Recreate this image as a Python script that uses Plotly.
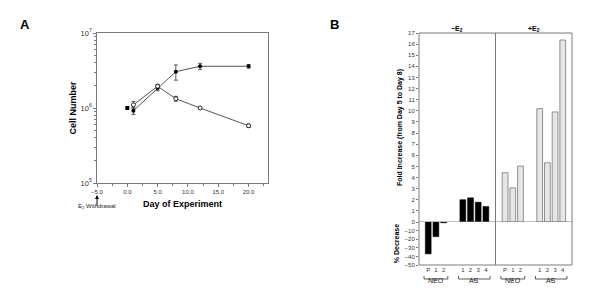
import plotly.graph_objects as go

# ---------------- Panel A data ----------------
start_day = [0]
start_cells = [1.0e6]
days = [1, 5, 8, 12, 20]
cells_plus_e2 = [0.92e6, 1.85e6, 3.05e6, 3.6e6, 3.6e6]
err_plus_e2 = [0.1e6, 0.15e6, 0.7e6, 0.35e6, 0.2e6]
cells_minus_e2 = [1.1e6, 1.95e6, 1.33e6, 1.0e6, 0.58e6]
err_minus_e2 = [0.12e6, 0.12e6, 0.1e6, 0.03e6, 0.03e6]
withdrawal_day = -5

# ---------------- Panel B data ----------------
conditions = ["−E<sub>2</sub>", "+E<sub>2</sub>"]
group_names = ["NEO", "AS", "NEO", "AS"]
group_condition = [0, 0, 1, 1]
group_labels = [["P", "1", "2"], ["1", "2", "3", "4"], ["P", "1", "2"], ["1", "2", "3", "4"]]
group_values = [[-37, -17, -0.8], [2.0, 2.17, 1.78, 1.39],
                [4.43, 3.07, 5.03], [10.2, 5.33, 9.9, 16.37]]
upper_ticks = list(range(0, 18))
lower_ticks = [-50, -40, -30, -20, -10]

FONT = "Arial, Liberation Sans, sans-serif"
LINE = "#7a7a7a"

fig = go.Figure()

# ---------- Panel A ----------
fig.add_trace(go.Scatter(x=days, y=cells_plus_e2, mode="lines+markers",
                         line=dict(color="#555555", width=1),
                         marker=dict(symbol="circle", size=4, color="black"),
                         error_y=dict(type="data", array=err_plus_e2, color="#333333", thickness=0.8, width=2),
                         xaxis="x", yaxis="y", showlegend=False))
fig.add_trace(go.Scatter(x=days, y=cells_minus_e2, mode="lines+markers",
                         line=dict(color="#555555", width=1),
                         marker=dict(symbol="circle", size=4, color="white", line=dict(color="black", width=0.8)),
                         error_y=dict(type="data", array=err_minus_e2, color="#333333", thickness=0.8, width=2),
                         xaxis="x", yaxis="y", showlegend=False))
fig.add_trace(go.Scatter(x=start_day, y=start_cells, mode="markers",
                         marker=dict(symbol="square", size=4, color="black"),
                         xaxis="x", yaxis="y", showlegend=False))

# ---------- Panel B: positions derived from group structure ----------
first_offset = 1.2
step = 1.0
group_gap = 2.5
positions = []
cursor = first_offset
for gi, labels in enumerate(group_labels):
    pos = [cursor + i * step for i in range(len(labels))]
    positions.append(pos)
    cursor = pos[-1] + group_gap
x_max = positions[-1][-1] + first_offset
divider_x = (positions[1][-1] + positions[2][0]) / 2

bar_styles = [dict(color="black", line=dict(color="black", width=0.6)),
              dict(color="#e6e6e6", line=dict(color="#777777", width=0.8))]

for gi in range(len(group_labels)):
    cond = group_condition[gi]
    xs_up = [x for x, v in zip(positions[gi], group_values[gi]) if v >= 0]
    ys_up = [v for v in group_values[gi] if v >= 0]
    xs_dn = [x for x, v in zip(positions[gi], group_values[gi]) if v < 0]
    ys_dn = [v for v in group_values[gi] if v < 0]
    if xs_up:
        fig.add_trace(go.Bar(x=xs_up, y=ys_up, width=0.75, marker=bar_styles[cond],
                             xaxis="x2", yaxis="y2", showlegend=False))
    if xs_dn:
        fig.add_trace(go.Bar(x=xs_dn, y=ys_dn, width=0.75, marker=bar_styles[cond],
                             xaxis="x3", yaxis="y3", showlegend=False))

all_pos = [p for g in positions for p in g]
all_lab = [l for g in group_labels for l in g]

tickfont = dict(family=FONT, size=6, color="#333333")

# domains
A_x = [97 / 600, 268 / 600]
A_y = [1 - 183 / 305, 1 - 33 / 305]
B_x = [419 / 600, 572 / 600]
B_up = [1 - 222 / 305, 1 - 33 / 305]
B_dn = [1 - 265 / 305, 1 - 222 / 305]

fig.update_layout(
    width=600, height=305,
    margin=dict(l=0, r=0, t=0, b=0, pad=0, autoexpand=False),
    paper_bgcolor="white", plot_bgcolor="white",
    barmode="overlay",
    font=dict(family=FONT, color="black"),
    xaxis=dict(domain=A_x, anchor="y", range=[-5, 23.2], tickvals=[-5, 0, 5, 10, 15, 20],
               tickformat=".1f", ticks="outside", ticklen=3, tickcolor=LINE,
               minor=dict(ticks="outside", ticklen=2, dtick=2.5, tickcolor=LINE),
               showline=True, linecolor=LINE, linewidth=1, mirror=True, showgrid=False,
               zeroline=False, tickfont=tickfont, automargin=False,
               title=dict(text="<b>Day of Experiment</b>", font=dict(size=9), standoff=6)),
    yaxis=dict(domain=A_y, anchor="x", type="log", range=[5, 7], dtick=1,
               exponentformat="power", ticks="outside", ticklen=3, tickcolor=LINE,
               minor=dict(ticks="outside", ticklen=2, dtick="D1", tickcolor=LINE),
               showline=True, linecolor=LINE, linewidth=1, mirror=True, showgrid=False,
               tickfont=tickfont, automargin=False,
               title=dict(text="<b>Cell Number</b>", font=dict(size=9), standoff=2)),
    xaxis2=dict(domain=B_x, anchor="y2", range=[0, x_max], showticklabels=False,
                showline=False, showgrid=False, zeroline=False, ticks="", automargin=False),
    xaxis3=dict(domain=B_x, anchor="y3", range=[0, x_max], matches="x2",
                tickvals=all_pos, ticktext=all_lab, ticks="", showline=False,
                showgrid=False, zeroline=False, tickfont=tickfont, automargin=False),
    yaxis2=dict(domain=B_up, anchor="x2", range=[0, 17], tickvals=upper_ticks,
                ticks="outside", ticklen=2, tickcolor=LINE, showgrid=False, zeroline=False,
                showline=False, tickfont=tickfont, automargin=False,
                title=dict(text="<b>Fold Increase (from Day 5 to Day 8)</b>", font=dict(size=7), standoff=4)),
    yaxis3=dict(domain=B_dn, anchor="x3", range=[-50, 0], tickvals=lower_ticks,
                ticks="outside", ticklen=2, tickcolor=LINE, showgrid=False, zeroline=False,
                showline=False, tickfont=tickfont, automargin=False,
                title=dict(text="<b>% Decrease</b>", font=dict(size=7), standoff=4)),
)

shapes = []
# Panel B frame, divider, zero line
shapes.append(dict(type="rect", xref="x2 domain", yref="paper", x0=0, x1=1,
                   y0=B_dn[0], y1=B_up[1], line=dict(color=LINE, width=1)))
shapes.append(dict(type="line", xref="x2", yref="paper", x0=divider_x, x1=divider_x,
                   y0=B_dn[0], y1=B_up[1], line=dict(color=LINE, width=1)))
shapes.append(dict(type="line", xref="x2 domain", yref="y2", x0=0, x1=1, y0=0, y1=0,
                   line=dict(color=LINE, width=1)))

# group brackets
br_y = 1 - 279 / 305
br_up = 1 - 276 / 305
br_dn = 1 - 281 / 305
annotations = []
for gi, pos in enumerate(positions):
    a = pos[0] - 0.55
    b = pos[-1] + 0.55
    c = (pos[0] + pos[-1]) / 2
    shapes.append(dict(type="path", xref="x2", yref="paper",
                       path=f"M {a},{br_up} L {a},{br_y} L {b},{br_y} L {b},{br_up}",
                       line=dict(color="#333333", width=0.8)))
    shapes.append(dict(type="line", xref="x2", yref="paper", x0=c, x1=c, y0=br_y, y1=br_dn,
                       line=dict(color="#333333", width=0.8)))
    annotations.append(dict(x=c, y=1 - 286 / 305, xref="x2", yref="paper", text=group_names[gi],
                            showarrow=False, font=dict(size=7, color="#222222")))

# condition headers
for ci, cond in enumerate(conditions):
    lo = 0 if ci == 0 else divider_x
    hi = divider_x if ci == 0 else x_max
    annotations.append(dict(x=(lo + hi) / 2, y=1 - 35 / 305, xref="x2", yref="paper",
                            yanchor="bottom", text=f"<b>{cond}</b>", showarrow=False,
                            font=dict(size=7, color="black")))

# panel letters
annotations.append(dict(x=18 / 600, y=1 - 15 / 305, xref="paper", yref="paper", text="<b>A</b>",
                        showarrow=False, font=dict(size=13)))
annotations.append(dict(x=334 / 600, y=1 - 15 / 305, xref="paper", yref="paper", text="<b>B</b>",
                        showarrow=False, font=dict(size=13)))

# E2 withdrawal arrow
annotations.append(dict(x=withdrawal_day, y=1 - 195 / 305, xref="x", yref="paper",
                        ax=0, ay=12, text="", showarrow=True, arrowhead=2, arrowsize=0.8,
                        arrowwidth=1, arrowcolor="black"))
annotations.append(dict(x=withdrawal_day, y=1 - 212 / 305, xref="x", yref="paper",
                        text="E<sub>2</sub> Withdrawal", showarrow=False,
                        font=dict(size=6, color="#222222")))

fig.update_layout(shapes=shapes, annotations=annotations)

fig.write_html("out.html", config={"displayModeBar": False},
               post_script="document.body.style.margin='0';document.body.style.padding='0';"
                           "document.documentElement.style.overflow='hidden';")
